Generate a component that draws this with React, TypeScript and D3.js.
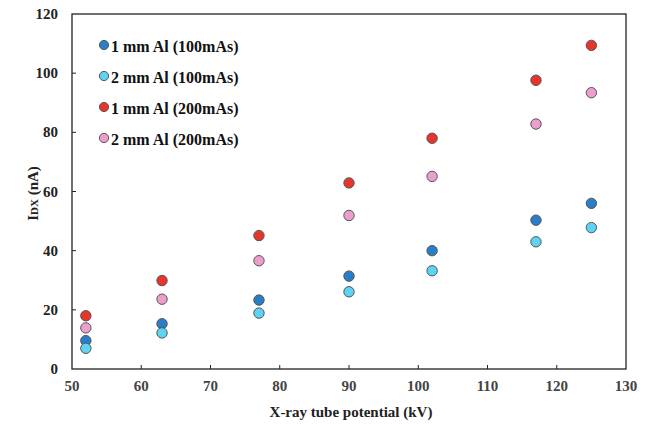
import React from "react";
import * as d3 from "d3";

// X-ray tube potential (kV)
const potentials = [52, 63, 77, 90, 102, 117, 125];

// Detector current (nA) for each filter / exposure combination
const al1mm100 = [9.6, 15.3, 23.3, 31.4, 40.0, 50.3, 56.0];
const al2mm100 = [7.0, 12.2, 18.9, 26.1, 33.2, 43.0, 47.8];
const al1mm200 = [18.0, 29.9, 45.1, 62.9, 78.0, 97.6, 109.4];
const al2mm200 = [13.9, 23.6, 36.6, 51.9, 65.1, 82.8, 93.4];

const seriesNames = [
  "1 mm Al (100mAs)",
  "2 mm Al (100mAs)",
  "1 mm Al (200mAs)",
  "2 mm Al (200mAs)",
];
const seriesColors = ["#2a7dc6", "#5ed3f3", "#e8352c", "#ec9fcd"];
const seriesValues = [al1mm100, al2mm100, al1mm200, al2mm200];

const xTicks = [50, 60, 70, 80, 90, 100, 110, 120, 130];
const yTicks = [0, 20, 40, 60, 80, 100, 120];

const W = 655;
const H = 431;
const left = 72;
const right = 626;
const top = 14;
const bottom = 369;

const serif = { fontFamily: "Liberation Serif" };

export default function App() {
  const x = d3.scaleLinear().domain([50, 130]).range([left, right]);
  const y = d3.scaleLinear().domain([0, 120]).range([bottom, top]);

  return (
    <svg
      width={W}
      height={H}
      style={{ position: "absolute", left: 0, top: 0, background: "#fff" }}
    >
      <rect
        x={left}
        y={top}
        width={right - left}
        height={bottom - top}
        fill="none"
        stroke="#222"
        strokeWidth={1.3}
      />
      {xTicks.slice(1, -1).map((t) => (
        <line key={"xt" + t} x1={x(t)} x2={x(t)} y1={bottom} y2={bottom - 4} stroke="#222" strokeWidth={1} />
      ))}
      {yTicks.slice(1, -1).map((t) => (
        <line key={"yt" + t} x1={left} x2={left + 4} y1={y(t)} y2={y(t)} stroke="#222" strokeWidth={1} />
      ))}
      {xTicks.map((t) => (
        <text
          key={"xl" + t}
          x={x(t)}
          y={bottom + 22}
          textAnchor="middle"
          fontSize={15}
          fontWeight="bold"
          fill="#444"
          style={serif}
        >
          {t}
        </text>
      ))}
      {yTicks.map((t) => (
        <text
          key={"yl" + t}
          x={left - 14}
          y={y(t) + 5}
          textAnchor="end"
          fontSize={15}
          fontWeight="bold"
          fill="#222"
          style={serif}
        >
          {t}
        </text>
      ))}
      <text
        x={(left + right) / 2 + 2}
        y={417}
        textAnchor="middle"
        fontSize={15}
        fontWeight="bold"
        fill="#222"
        style={serif}
      >
        X-ray tube potential (kV)
      </text>
      <text
        transform={`translate(38, ${(top + bottom) / 2 + 2}) rotate(-90)`}
        textAnchor="middle"
        fontSize={15}
        fontWeight="bold"
        fill="#222"
        style={serif}
      >
        I<tspan fontSize={11}>DX</tspan> (nA)
      </text>
      {seriesValues.map((vals, si) =>
        vals.map((v, i) => (
          <circle
            key={`p${si}-${i}`}
            cx={x(potentials[i])}
            cy={y(v)}
            r={5.2}
            fill={seriesColors[si]}
            stroke="#555"
            strokeWidth={1}
          />
        ))
      )}
      {seriesNames.map((name, si) => (
        <g key={"lg" + si} transform={`translate(104, ${46 + si * 31})`}>
          <circle r={4.6} cy={-1} fill={seriesColors[si]} stroke="#555" strokeWidth={1} />
          <text x={7} y={5.5} fontSize={16} fontWeight="bold" fill="#111" style={serif}>
            {name}
          </text>
        </g>
      ))}
    </svg>
  );
}
